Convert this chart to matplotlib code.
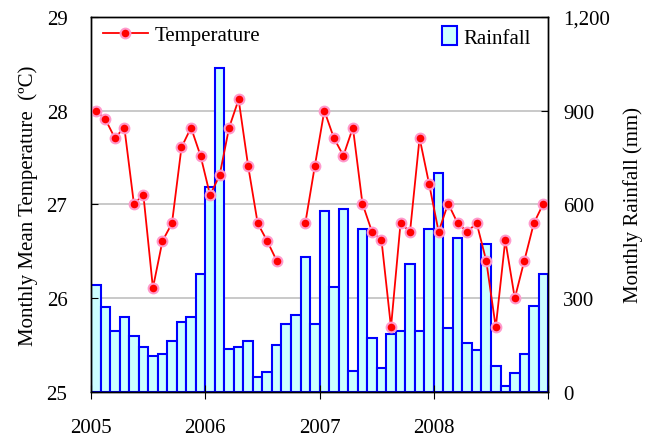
import numpy as np
import matplotlib
matplotlib.use('Agg')
import matplotlib.pyplot as plt
from matplotlib.ticker import FuncFormatter

# ─── DATOS ───────────────────────────────────────────────────
anios = [2005, 2006, 2007, 2008, 2009]
temperatura = [
    28.00, 27.91, 27.71, 27.82, 27.01, 27.10, 26.11, 26.61, 26.80, 27.61, 27.82, 27.52,
    27.10, 27.31, 27.82, 28.12, 27.41, 26.80, 26.61, 26.40, np.nan, np.nan, 26.80, 27.41,
    28.00, 27.71, 27.52, 27.82, 27.01, 26.71, 26.62, 25.69, 26.80, 26.71, 27.71, 27.22,
    26.71, 27.01, 26.80, 26.71, 26.80, 26.40, 25.69, 26.62, 26.00, 26.40, 26.80, 27.01,
]
lluvia = [
    342, 273, 194, 239, 178, 143, 115, 121, 162, 224, 239, 376,
    656, 1036, 139, 143, 162, 48, 65, 149, 218, 246, 432, 218,
    579, 335, 585, 66, 523, 173, 77, 184, 195, 410, 195, 523,
    702, 206, 494, 156, 133, 472, 82, 20, 60, 122, 274, 376,
]
# ─────────────────────────────────────────────────────────────

plt.rcParams['font.family'] = ['Liberation Serif', 'DejaVu Serif']

meses = np.arange(len(lluvia))
x = anios[0] + (meses + 0.5) / 12.0

fig = plt.figure(figsize=(6.53, 4.39), dpi=100)
ax1 = fig.add_axes([0.1394, 0.1048, 0.700, 0.8542])
ax2 = ax1.twinx()

# barras de lluvia (eje derecho, por debajo)
ax2.bar(x, lluvia, width=1 / 12.0, color='#ccffff', edgecolor='#0000ff',
        linewidth=1.5, label='Rainfall', zorder=2)
ax2.set_ylim(0, 1200)
ax2.set_yticks([0, 300, 600, 900, 1200])
ax2.yaxis.set_major_formatter(FuncFormatter(lambda v, p: f"{int(v):,}"))
ax2.set_ylabel("Monthly Rainfall (mm)", fontsize=15, labelpad=9)
ax2.set_axisbelow(True)
ax2.grid(True, color='#c0c0c0', linewidth=1.2, zorder=0)
ax2.tick_params(axis='y', direction='in', labelsize=15, length=5, pad=11)

# temperatura (eje izquierdo, encima)
ax1.set_zorder(ax2.get_zorder() + 1)
ax1.patch.set_visible(False)
ax1.plot(x, temperatura, color='#ff0000', linewidth=1.3, marker='o',
         markersize=7, markerfacecolor='#ff0000', markeredgecolor='#ff99cc',
         markeredgewidth=1.5, label='Temperature')
ax1.set_ylim(25, 29)
ax1.set_yticks([25, 26, 27, 28, 29])
ax1.set_xlim(anios[0], anios[-1])
ax1.set_xticks(anios)
ax1.set_xticklabels([str(a) for a in anios[:-1]] + [''])
ax1.set_ylabel("Monthly Mean Temperature  (ºC)", fontsize=15, labelpad=6)
ax1.tick_params(axis='y', direction='in', labelsize=15, length=5, pad=17)
ax1.tick_params(axis='x', direction='inout', labelsize=15, length=10, pad=14)

for a in (ax1, ax2):
    for s in a.spines.values():
        s.set_color('black')
        s.set_linewidth(1.0)

ax1.legend(loc='upper left', bbox_to_anchor=(0.007, 1.0), frameon=False,
           fontsize=15, handlelength=2.2, borderaxespad=0.0, handletextpad=0.3)
ax2.legend(loc='upper right', bbox_to_anchor=(0.982, 1.0), frameon=False,
           fontsize=15, handlelength=0.7, handleheight=1.0, borderaxespad=0.05,
           handletextpad=0.3)

fig.savefig('out.png', dpi=100)
